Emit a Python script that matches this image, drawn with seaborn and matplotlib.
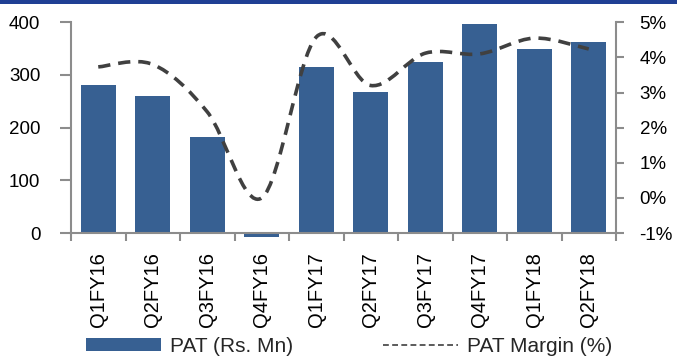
import matplotlib
matplotlib.use("Agg")
import matplotlib.pyplot as plt
import seaborn as sns
import numpy as np
import pandas as pd
from matplotlib.path import Path
from matplotlib.patches import PathPatch, Patch, Rectangle
from matplotlib.lines import Line2D
from matplotlib.ticker import FixedLocator, FuncFormatter

quarters = ["Q1FY16", "Q2FY16", "Q3FY16", "Q4FY16", "Q1FY17",
            "Q2FY17", "Q3FY17", "Q4FY17", "Q1FY18", "Q2FY18"]
pat = [281, 260, 182, -8, 315, 267, 324, 397, 349, 362]
margin = [3.73, 3.8, 2.45, 0.0, 4.58, 3.2, 4.12, 4.1, 4.55, 4.24]
left_ticks = [0, 100, 200, 300, 400]
right_ticks = [-1, 0, 1, 2, 3, 4, 5]

bar_color = "#376092"
line_color = "#404040"
spine_color = "#8c8c8c"

sns.set_theme(style="white")
plt.rcParams["font.family"] = ["Liberation Sans", "DejaVu Sans"]
FS = 13.5
FSX = 14.5
FSL = 15

fig = plt.figure(figsize=(6.77, 3.58), dpi=100)
ax = fig.add_axes([71 / 677, 1 - 233 / 358, (616 - 71) / 677, (233 - 22.3) / 358])

df = pd.DataFrame({"quarter": quarters, "pat": pat})
sns.barplot(data=df, x="quarter", y="pat", color=bar_color, width=0.64,
            saturation=1, ax=ax, zorder=2)
for p in ax.patches:
    p.set_clip_on(False)
    p.set_edgecolor("none")

ax.set_xlim(-0.5, len(quarters) - 0.5)
ax.set_ylim(0, 400)
ax.set_yticks(left_ticks)
ax.set_xlabel("")
ax.set_ylabel("")
ax.set_xticks(range(len(quarters)))
ax.set_xticklabels(quarters, rotation=90, fontsize=FSX, color="black")
ax.xaxis.set_minor_locator(FixedLocator(np.arange(-0.5, len(quarters), 1.0)))
ax.tick_params(axis="x", which="major", length=0, pad=14)
ax.tick_params(axis="x", which="minor", length=6, width=1.5, color=spine_color,
               direction="out", bottom=True)
ax.tick_params(axis="y", which="major", length=8, width=1.5, color=spine_color,
               direction="out", left=True, pad=14, labelsize=FS, labelcolor="black")

for s in ["left", "bottom"]:
    ax.spines[s].set_color(spine_color)
    ax.spines[s].set_linewidth(1.5)
    ax.spines[s].set_zorder(3)
ax.spines["top"].set_visible(False)
ax.spines["right"].set_visible(False)

ax2 = ax.twinx()
ax2.set_ylim(-1, 5)
ax2.set_yticks(right_ticks)
ax2.yaxis.set_major_formatter(FuncFormatter(lambda v, _: f"{int(v)}%"))
ax2.tick_params(axis="y", length=6, width=1.5, color=spine_color, direction="out",
                right=True, pad=11, labelsize=FS, labelcolor="black")
for s in ["top", "left", "bottom"]:
    ax2.spines[s].set_visible(False)
ax2.spines["right"].set_color(spine_color)
ax2.spines["right"].set_linewidth(1.5)
ax2.grid(False)
ax.grid(False)

# smoothed (Excel-style) curve through the margin points
xs = np.arange(len(margin), dtype=float)
ys = np.array(margin, dtype=float)
verts = [(xs[0], ys[0])]
codes = [Path.MOVETO]
n = len(xs)
for i in range(n - 1):
    p0 = np.array([xs[max(i - 1, 0)], ys[max(i - 1, 0)]])
    p1 = np.array([xs[i], ys[i]])
    p2 = np.array([xs[i + 1], ys[i + 1]])
    p3 = np.array([xs[min(i + 2, n - 1)], ys[min(i + 2, n - 1)]])
    c1 = p1 + (p2 - p0) / 6.0
    c2 = p2 - (p3 - p1) / 6.0
    verts += [tuple(c1), tuple(c2), tuple(p2)]
    codes += [Path.CURVE4, Path.CURVE4, Path.CURVE4]
curve = PathPatch(Path(verts, codes), facecolor="none", edgecolor=line_color,
                  linewidth=2.6, linestyle=(0, (3.4, 2.2)), zorder=4)
ax2.add_patch(curve)

handles = [Patch(facecolor=bar_color, edgecolor="none", label="PAT (Rs. Mn)"),
           Line2D([], [], color=line_color, lw=1.2, linestyle=(0, (3.5, 2)),
                  label="PAT Margin (%)")]
fig.legend(handles=handles, loc="center left", bbox_to_anchor=(86 / 677, 1 - 346 / 358),
           ncol=2, frameon=False, fontsize=FSL, handlelength=3.6, handleheight=0.6,
           handletextpad=0.43, columnspacing=4.3, borderpad=0, borderaxespad=0)

fig.patches.append(Rectangle((0, 1 - 4 / 358), 1, 4 / 358, transform=fig.transFigure,
                             facecolor="#1F3F94", edgecolor="none", zorder=10))

fig.savefig("out.png", dpi=100)
